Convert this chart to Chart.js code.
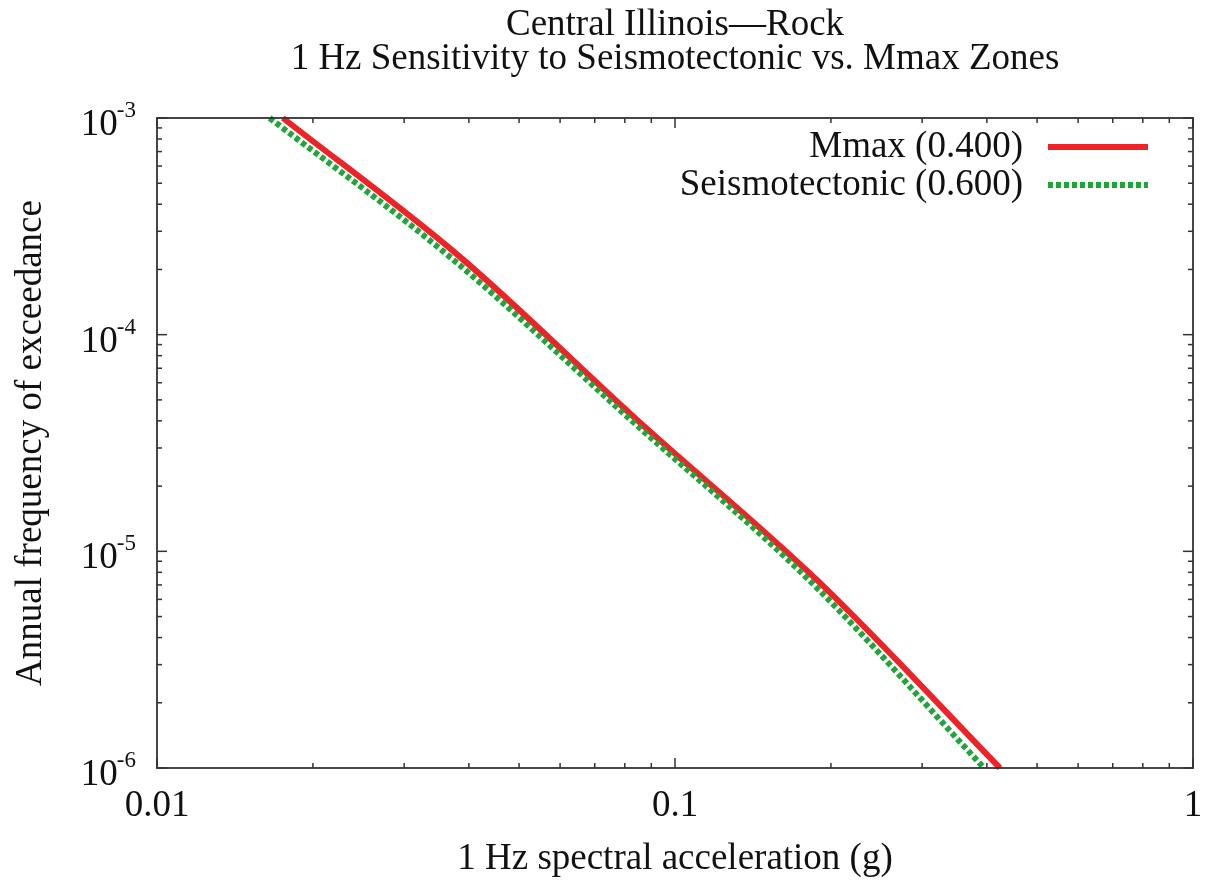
<!DOCTYPE html>
<html>
<head>
<meta charset="utf-8">
<script src="https://cdn.jsdelivr.net/npm/chart.js@4/dist/chart.umd.min.js"></script>
<style>
    html, body { margin: 0; padding: 0; background: #fff; }
    #wrap { width: 1207px; height: 887px; }
</style>
</head>
<body>
<div id="wrap"><canvas id="hazardChart"></canvas></div>
<script>
// Hazard curves (x = spectral accel in g, y = annual freq.)
const mmaxX = [0.0175, 0.0385, 0.0845, 0.1905, 0.424];
const mmaxY = [1.0e-3, 2.28e-4, 4.04e-5, 7.15e-6, 1.0e-6];
const seisX = [0.0165, 0.0368, 0.0822, 0.1838, 0.395];
const seisY = [1.0e-3, 2.28e-4, 4.04e-5, 7.15e-6, 1.0e-6];

const seriesNames = ['Mmax (0.400)', 'Seismotectonic (0.600)'];
const titleLines = ['Central Illinois\u2014Rock', '1 Hz Sensitivity to Seismotectonic vs. Mmax Zones'];

const xTickValues = [0.01, 0.1, 1];
const xTickLabels = ['0.01', '0.1', '1'];
const yTickValues = [1e-6, 1e-5, 1e-4, 1e-3];
const yTickExponents = ['-6', '-5', '-4', '-3'];

const FONT = "'Liberation Serif', 'Times New Roman', serif";
const INK = '#111';

function toPoints(xs, ys) {
    return xs.map((x, i) => ({ x: x, y: ys[i] }));
}

// gnuplot style frame with inward ticks (major + minor)
const framePlugin = {
    id: 'frame',
    afterDatasetsDraw(chart) {
        const { ctx, chartArea: a, scales } = chart;
        ctx.save();
        ctx.strokeStyle = '#333';
        ctx.lineWidth = 1.8;
        ctx.strokeRect(a.left, a.top, a.right - a.left, a.bottom - a.top);

        const tick = (x1, y1, x2, y2) => {
            ctx.beginPath(); ctx.moveTo(x1, y1); ctx.lineTo(x2, y2); ctx.stroke();
        };
        ctx.lineWidth = 1.5;
        // x ticks
        for (let d = -2; d <= 0; d++) {
            for (let m = 1; m <= 9; m++) {
                const v = m * Math.pow(10, d);
                if (v > 1.0001) break;
                const px = scales.x.getPixelForValue(v);
                const len = m === 1 ? 10 : 5;
                tick(px, a.bottom, px, a.bottom - len);
                tick(px, a.top, px, a.top + len);
            }
        }
        // y ticks
        for (let d = -6; d <= -3; d++) {
            for (let m = 1; m <= 9; m++) {
                const v = m * Math.pow(10, d);
                if (v > 1.0001e-3) break;
                const py = scales.y.getPixelForValue(v);
                const len = m === 1 ? 10 : 5;
                tick(a.left, py, a.left + len, py);
                tick(a.right, py, a.right - len, py);
            }
        }
        ctx.restore();
    },
    afterDraw(chart) {
        const { ctx, chartArea: a, scales } = chart;
        ctx.save();
        ctx.fillStyle = INK;

        // y tick labels as 10 with a raised exponent
        yTickValues.forEach((v, i) => {
            const py = scales.y.getPixelForValue(v);
            ctx.textBaseline = 'alphabetic';
            ctx.textAlign = 'right';
            ctx.font = '23px ' + FONT;
            const expW = ctx.measureText(yTickExponents[i]).width;
            ctx.fillText(yTickExponents[i], 136, py - 1);
            ctx.font = '37px ' + FONT;
            ctx.fillText('10', 137 - expW, py + 17);
        });

        ctx.font = '37px ' + FONT;
        ctx.textAlign = 'center';
        ctx.textBaseline = 'alphabetic';
        const cx = (a.left + a.right) / 2;
        ctx.fillText(titleLines[0], cx, 35);
        ctx.fillText(titleLines[1], cx, 69);

        // key, top right inside the frame
        chart.data.datasets.forEach((ds, i) => {
            const y = 147 + i * 38;
            ctx.textAlign = 'right';
            ctx.textBaseline = 'middle';
            ctx.fillStyle = INK;
            ctx.fillText(ds.label, 1023, y);
            ctx.strokeStyle = ds.borderColor;
            ctx.lineWidth = ds.borderWidth;
            ctx.lineCap = 'butt';
            ctx.setLineDash(ds.borderDash || []);
            ctx.beginPath();
            ctx.moveTo(1048, y);
            ctx.lineTo(1148, y);
            ctx.stroke();
        });
        ctx.restore();
    }
};

const ctx = document.getElementById('hazardChart').getContext('2d');
new Chart(ctx, {
    type: 'line',
    data: {
        datasets: [{
            label: seriesNames[0],
            data: toPoints(mmaxX, mmaxY),
            borderColor: '#ec2327',
            borderWidth: 6,
            pointRadius: 0,
            cubicInterpolationMode: 'monotone',
            order: 2
        }, {
            label: seriesNames[1],
            data: toPoints(seisX, seisY),
            borderColor: '#1fa53a',
            borderWidth: 6,
            borderDash: [5, 3],
            pointRadius: 0,
            cubicInterpolationMode: 'monotone',
            order: 1
        }]
    },
    options: {
        responsive: true,
        maintainAspectRatio: false,
        animation: false,
        clip: false,
        layout: {
            padding: { top: 118, right: 14, left: 0, bottom: 0 }
        },
        plugins: {
            legend: { display: false },
            title: { display: false },
            tooltip: { enabled: false }
        },
        scales: {
            x: {
                type: 'logarithmic',
                min: 0.01,
                max: 1,
                afterBuildTicks: (scale) => { scale.ticks = xTickValues.map(v => ({ value: v })); },
                afterFit: (scale) => {
                    scale.height = 119;
                    scale.paddingLeft = 0;
                    scale.paddingRight = 0;
                },
                grid: { display: false, drawTicks: false },
                border: { display: false },
                ticks: {
                    autoSkip: false,
                    maxRotation: 0,
                    padding: 16,
                    color: INK,
                    font: { family: FONT, size: 37 },
                    callback: (v) => xTickLabels[xTickValues.indexOf(v)]
                },
                title: {
                    display: true,
                    text: '1 Hz spectral acceleration (g)',
                    color: INK,
                    font: { family: FONT, size: 37 },
                    padding: { top: 0, bottom: 6 }
                }
            },
            y: {
                type: 'logarithmic',
                min: 1e-6,
                max: 1e-3,
                afterBuildTicks: (scale) => { scale.ticks = yTickValues.map(v => ({ value: v })); },
                afterFit: (scale) => {
                    scale.width = 157;
                    scale.paddingTop = 0;
                    scale.paddingBottom = 0;
                },
                grid: { display: false, drawTicks: false },
                border: { display: false },
                ticks: { display: false },
                title: {
                    display: true,
                    text: 'Annual frequency of exceedance',
                    color: INK,
                    font: { family: FONT, size: 37 },
                    padding: { top: 9, bottom: 0 }
                }
            }
        }
    },
    plugins: [framePlugin]
});
</script>
</body>
</html>
